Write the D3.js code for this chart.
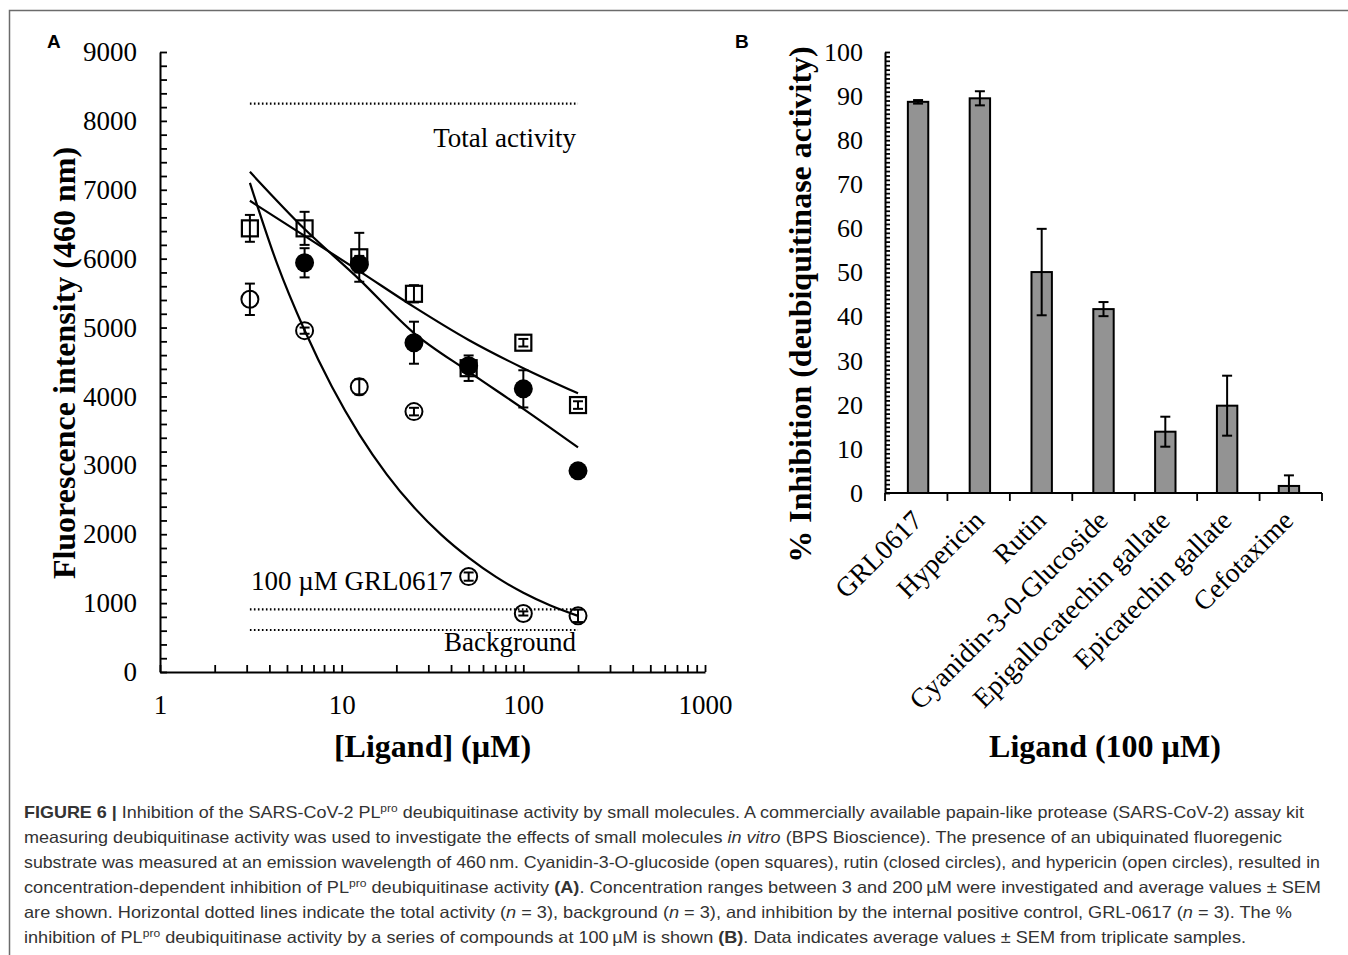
<!DOCTYPE html>
<html>
<head>
<meta charset="utf-8">
<script src="https://cdn.jsdelivr.net/npm/d3@7"></script>
<style>
  body { margin: 0; background: #fff; }
  svg { display: block; background: #fff; }
</style>
</head>
<body>
<svg id="chart"></svg>
<script>
const width = 1348;
const height = 955;
const serif = "'Liberation Serif', 'Times New Roman', serif";

// Panel A, concentrations in µM
const concentrations = [3.125, 6.25, 12.5, 25, 50, 100, 200];
const c3gMean = [6440, 6440, 6020, 5490, 4410, 4780, 3875];   // open squares
const c3gSem = [195, 240, 355, 125, 185, 55, 55];
const rutinConc = [6.25, 12.5, 25, 50, 100, 200];
const rutinMean = [5940, 5920, 4780, 4445, 4110, 2920];        // closed circles
const rutinSem = [212, 120, 305, 60, 270, 40];
const hypMean = [5410, 4955, 4140, 3780, 1385, 850, 815];      // open circles
const hypSem = [228, 45, 110, 55, 60, 30, 90];

// fitted curves
const c3gFit = [6840, 6330, 5820, 5300, 4820, 4410, 4045];
const rutinFit = [7260, 6430, 5700, 4920, 4360, 3820, 3260];
const hypFitConc = [3.125, 4.42, 6.25, 8.84, 12.5, 17.7, 25, 35.4, 50, 70.7, 100, 141, 200];
const hypFit = [7100, 5920, 4960, 4140, 3450, 2870, 2390, 1990, 1660, 1380, 1150, 965, 815];

// dotted reference levels
const totalActivity = 8250;
const grlLevel = 910;
const backgroundLevel = 610;

// Panel B
const categories = ["GRL0617", "Hypericin", "Rutin", "Cyanidin-3-0-Glucoside",
  "Epigallocatechin gallate", "Epicatechin gallate", "Cefotaxime"];
const inhibition = [88.7, 89.5, 50.1, 41.7, 13.9, 19.8, 1.6];
const inhibitionSem = [0.4, 1.6, 9.8, 1.6, 3.4, 6.8, 2.4];

const captionLines = [
  [["FIGURE 6 |", "b"], [" Inhibition of the SARS-CoV-2 PL"], ["pro", "sup"], [" deubiquitinase activity by small molecules. A commercially available papain-like protease (SARS-CoV-2) assay kit"]],
  [["measuring deubiquitinase activity was used to investigate the effects of small molecules "], ["in vitro", "i"], [" (BPS Bioscience). The presence of an ubiquinated fluoregenic"]],
  [["substrate was measured at an emission wavelength of 460\u2009nm. Cyanidin-3-O-glucoside (open squares), rutin (closed circles), and hypericin (open circles), resulted in"]],
  [["concentration-dependent inhibition of PL"], ["pro", "sup"], [" deubiquitinase activity "], ["(A)", "b"], [". Concentration ranges between 3 and 200\u2009\u00b5M were investigated and average values \u00b1 SEM"]],
  [["are shown. Horizontal dotted lines indicate the total activity ("], ["n", "i"], [" = 3), background ("], ["n", "i"], [" = 3), and inhibition by the internal positive control, GRL-0617 ("], ["n", "i"], [" = 3). The %"]],
  [["inhibition of PL"], ["pro", "sup"], [" deubiquitinase activity by a series of compounds at 100\u2009\u00b5M is shown "], ["(B)", "b"], [". Data indicates average values \u00b1 SEM from triplicate samples."]]
];
const captionEnds = [1304, 1282, 1320, 1321, 1292, 1246];

const svg = d3.select("#chart")
  .attr("width", width)
  .attr("height", height);

// frame
svg.append("rect")
  .attr("x", 9.5).attr("y", 10.5)
  .attr("width", width + 20).attr("height", height + 20)
  .attr("fill", "none")
  .attr("stroke", "#6b6b6b")
  .attr("stroke-width", 1.5);

// ---------- Panel A ----------
const xA = d3.scaleLog().domain([1, 1000]).range([160, 705]);
const yA = d3.scaleLinear().domain([0, 9000]).range([672, 52]);

function styleAxis(g, size) {
  g.select(".domain").attr("stroke-width", 2);
  g.selectAll(".tick line").attr("stroke-width", 1.8);
  g.selectAll("text")
    .attr("font-family", serif)
    .attr("font-size", size)
    .attr("fill", "#000");
}

const yAxisA = d3.axisLeft(yA)
  .tickValues(d3.range(0, 9001, 200))
  .tickSizeInner(-7)
  .tickSizeOuter(0)
  .tickPadding(23)
  .tickFormat(d => d % 1000 === 0 ? d : "");

svg.append("g")
  .attr("transform", `translate(${xA.range()[0]},0)`)
  .call(yAxisA)
  .call(g => styleAxis(g, 27));

const xAxisA = d3.axisBottom(xA)
  .tickValues(xA.ticks())
  .tickSizeInner(-7)
  .tickSizeOuter(0)
  .tickPadding(23)
  .tickFormat(d => [1, 10, 100, 1000].includes(d) ? d : "");

svg.append("g")
  .attr("transform", `translate(0,${yA.range()[0]})`)
  .call(xAxisA)
  .call(g => styleAxis(g, 27));

// reference lines
const refs = [
  { v: totalActivity },
  { v: grlLevel },
  { v: backgroundLevel }
];
svg.append("g").selectAll("line")
  .data(refs)
  .enter()
  .append("line")
  .attr("x1", xA(concentrations[0]))
  .attr("x2", xA(concentrations[concentrations.length - 1]))
  .attr("y1", d => yA(d.v))
  .attr("y2", d => yA(d.v))
  .attr("stroke", "#000")
  .attr("stroke-width", 2.2)
  .attr("stroke-dasharray", "1.6,2.4");

svg.append("text")
  .attr("x", xA(200) - 2)
  .attr("y", yA(totalActivity) + 43)
  .attr("text-anchor", "end")
  .attr("font-family", serif)
  .attr("font-size", 27)
  .text("Total activity");

svg.append("text")
  .attr("x", xA(concentrations[0]) + 1)
  .attr("y", yA(grlLevel) - 19)
  .attr("font-family", serif)
  .attr("font-size", 27)
  .text("100 \u00b5M GRL0617");

svg.append("text")
  .attr("x", xA(200) - 2)
  .attr("y", yA(backgroundLevel) + 21)
  .attr("text-anchor", "end")
  .attr("font-family", serif)
  .attr("font-size", 27)
  .text("Background");

// fitted curves
const fitLine = d3.line()
  .x(d => xA(d[0]))
  .y(d => yA(d[1]))
  .curve(d3.curveMonotoneX);

const fits = [
  d3.zip(concentrations, c3gFit),
  d3.zip(concentrations, rutinFit),
  d3.zip(hypFitConc, hypFit)
];
svg.append("g").selectAll("path")
  .data(fits)
  .enter()
  .append("path")
  .attr("d", fitLine)
  .attr("fill", "none")
  .attr("stroke", "#000")
  .attr("stroke-width", 2.2);

function drawErrors(g, xs, means, sems, scaleX, scaleY, cap) {
  const pts = xs.map((x, i) => ({ x: x, m: means[i], s: sems[i] }));
  const e = g.append("g").attr("stroke", "#000").attr("stroke-width", 2);
  e.selectAll(".stem").data(pts).enter().append("line")
    .attr("x1", d => scaleX(d.x)).attr("x2", d => scaleX(d.x))
    .attr("y1", d => scaleY(Math.max(0, d.m - d.s))).attr("y2", d => scaleY(d.m + d.s));
  e.selectAll(".capTop").data(pts).enter().append("line")
    .attr("x1", d => scaleX(d.x) - cap).attr("x2", d => scaleX(d.x) + cap)
    .attr("y1", d => scaleY(d.m + d.s)).attr("y2", d => scaleY(d.m + d.s));
  e.selectAll(".capBot").data(pts).enter().append("line")
    .attr("x1", d => scaleX(d.x) - cap).attr("x2", d => scaleX(d.x) + cap)
    .attr("y1", d => scaleY(Math.max(0, d.m - d.s))).attr("y2", d => scaleY(Math.max(0, d.m - d.s)));
}

const marks = svg.append("g");

// open squares: cyanidin-3-O-glucoside
drawErrors(marks, concentrations, c3gMean, c3gSem, xA, yA, 5);
marks.append("g").selectAll("rect")
  .data(d3.zip(concentrations, c3gMean))
  .enter()
  .append("rect")
  .attr("x", d => xA(d[0]) - 8)
  .attr("y", d => yA(d[1]) - 8)
  .attr("width", 16)
  .attr("height", 16)
  .attr("fill", "none")
  .attr("stroke", "#000")
  .attr("stroke-width", 2.2);

// closed circles: rutin
drawErrors(marks, rutinConc, rutinMean, rutinSem, xA, yA, 5);
marks.append("g").selectAll("circle")
  .data(d3.zip(rutinConc, rutinMean))
  .enter()
  .append("circle")
  .attr("cx", d => xA(d[0]))
  .attr("cy", d => yA(d[1]))
  .attr("r", 9.5)
  .attr("fill", "#000");

// open circles: hypericin
drawErrors(marks, concentrations, hypMean, hypSem, xA, yA, 5);
marks.append("g").selectAll("circle")
  .data(d3.zip(concentrations, hypMean))
  .enter()
  .append("circle")
  .attr("cx", d => xA(d[0]))
  .attr("cy", d => yA(d[1]))
  .attr("r", 8.5)
  .attr("fill", "none")
  .attr("stroke", "#000")
  .attr("stroke-width", 2);

svg.append("text")
  .attr("transform", `translate(75,${(yA.range()[0] + yA.range()[1]) / 2 + 1}) rotate(-90)`)
  .attr("text-anchor", "middle")
  .attr("font-family", serif)
  .attr("font-weight", "bold")
  .attr("font-size", 32)
  .text("Fluorescence intensity (460 nm)");

svg.append("text")
  .attr("x", (xA.range()[0] + xA.range()[1]) / 2)
  .attr("y", 757)
  .attr("text-anchor", "middle")
  .attr("font-family", serif)
  .attr("font-weight", "bold")
  .attr("font-size", 32)
  .text("[Ligand] (\u00b5M)");

svg.append("text")
  .attr("x", 47).attr("y", 48)
  .attr("font-family", "'Liberation Sans', Arial, sans-serif")
  .attr("font-weight", "bold")
  .attr("font-size", 19)
  .text("A");

// ---------- Panel B ----------
const xB = d3.scaleBand()
  .domain(categories)
  .range([885, 1322])
  .paddingInner(0.67)
  .paddingOuter(0.37);
const yB = d3.scaleLinear().domain([0, 100]).range([493, 52]);

const yAxisB = d3.axisLeft(yB)
  .tickValues(d3.range(0, 101, 1))
  .tickSizeInner(-5)
  .tickSizeOuter(0)
  .tickPadding(22)
  .tickFormat(d => d % 10 === 0 ? d : "");

svg.append("g")
  .attr("transform", `translate(${xB.range()[0]},0)`)
  .call(yAxisB)
  .call(g => styleAxis(g, 26));

// bars
svg.append("g").selectAll("rect")
  .data(categories)
  .enter()
  .append("rect")
  .attr("x", d => xB(d))
  .attr("y", (d, i) => yB(inhibition[i]))
  .attr("width", xB.bandwidth())
  .attr("height", (d, i) => yB(0) - yB(inhibition[i]))
  .attr("fill", "#939393")
  .attr("stroke", "#000")
  .attr("stroke-width", 2);

const barCenter = c => xB(c) + xB.bandwidth() / 2;
const barErr = svg.append("g");
drawErrors(barErr, categories, inhibition, inhibitionSem, barCenter, yB, 5);

// x axis with ticks between categories
const xAxisB = svg.append("g").attr("stroke", "#000");
const catWidth = (xB.range()[1] - xB.range()[0]) / categories.length;
xAxisB.append("line")
  .attr("x1", xB.range()[0]).attr("x2", xB.range()[1])
  .attr("y1", yB(0)).attr("y2", yB(0))
  .attr("stroke-width", 2);
xAxisB.selectAll(".sep")
  .data(d3.range(categories.length + 1))
  .enter()
  .append("line")
  .attr("x1", i => xB.range()[0] + i * catWidth)
  .attr("x2", i => xB.range()[0] + i * catWidth)
  .attr("y1", yB(0))
  .attr("y2", yB(0) + 8)
  .attr("stroke-width", 1.8);

svg.append("g").selectAll("text")
  .data(categories)
  .enter()
  .append("text")
  .attr("transform", d => `translate(${barCenter(d) + 6},${yB(0) + 29}) rotate(-45)`)
  .attr("text-anchor", "end")
  .attr("font-family", serif)
  .attr("font-size", 27.5)
  .text(d => d);

svg.append("text")
  .attr("transform", `translate(811,${(yB.range()[0] + yB.range()[1]) / 2 + 32}) rotate(-90)`)
  .attr("text-anchor", "middle")
  .attr("font-family", serif)
  .attr("font-weight", "bold")
  .attr("font-size", 32)
  .text("% Inhibition (deubiquitinase activity)");

svg.append("text")
  .attr("x", 1105)
  .attr("y", 757)
  .attr("text-anchor", "middle")
  .attr("font-family", serif)
  .attr("font-weight", "bold")
  .attr("font-size", 32)
  .text("Ligand (100 \u00b5M)");

svg.append("text")
  .attr("x", 735).attr("y", 48)
  .attr("font-family", "'Liberation Sans', Arial, sans-serif")
  .attr("font-weight", "bold")
  .attr("font-size", 19)
  .text("B");

// ---------- Caption ----------
const caption = svg.append("g")
  .attr("font-family", "'Liberation Sans Narrow', 'Arial Narrow', 'Liberation Sans', sans-serif")
  .attr("font-size", 16.5)
  .attr("fill", "#333");

captionLines.forEach((segments, i) => {
  const t = caption.append("text")
    .attr("x", 24)
    .attr("y", 818 + i * 25)
    .attr("textLength", captionEnds[i] - 24)
    .attr("lengthAdjust", "spacingAndGlyphs");
  segments.forEach(([str, kind]) => {
    const s = t.append("tspan").text(str);
    if (kind === "b") s.attr("font-weight", "bold");
    if (kind === "i") s.attr("font-style", "italic");
    if (kind === "sup") s.attr("font-size", 11).attr("baseline-shift", "super");
  });
});
</script>
</body>
</html>
